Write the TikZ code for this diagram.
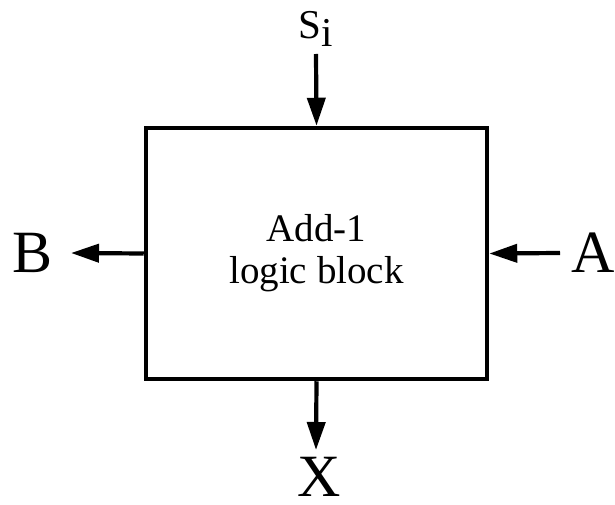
\documentclass[tikz,border=0pt]{standalone}
\usepackage{fontspec}
\setmainfont{Liberation Serif}
\usetikzlibrary{arrows.meta, positioning}

\begin{document}
\begin{tikzpicture}[x=1pt, y=-1pt,
        blk/.style={draw=black, line width=4.5pt, minimum width=341pt, minimum height=251pt, inner sep=0pt, align=center, font=\fontsize{39}{42}\selectfont},
        sig/.style={-{Triangle[length=28pt, width=18pt]}, line width=4.2pt},
        pin/.style={inner sep=0pt, font=\fontsize{60}{60}\selectfont}
      ]
        \useasboundingbox (0,0) rectangle (615,505);
        \node[blk] (add) at (316.5,253.5) {Add-1\\logic block};
        % ports
        \coordinate (sin) at (316,54);
        \coordinate (bout) at (71,253);
        \coordinate (ain) at (560,253);
        \coordinate (xout) at (316,450);
        \draw[sig] (sin) -- (add.north);
        \draw[sig] (add.west) -- (bout);
        \draw[sig] (ain) -- (add.east);
        \draw[sig] (add.south) -- (xout);
        \node[inner sep=0pt, anchor=base, font=\fontsize{41}{41}\selectfont] (lblS) at (316,39) {S\raisebox{-8pt}{i}};
        \node[pin] (lblB) at (33,252.5) {B};
        \node[pin] (lblA) at (593,252.5) {A};
        \node[pin] (lblX) at (319,477) {X};
      \end{tikzpicture}
\end{document}
